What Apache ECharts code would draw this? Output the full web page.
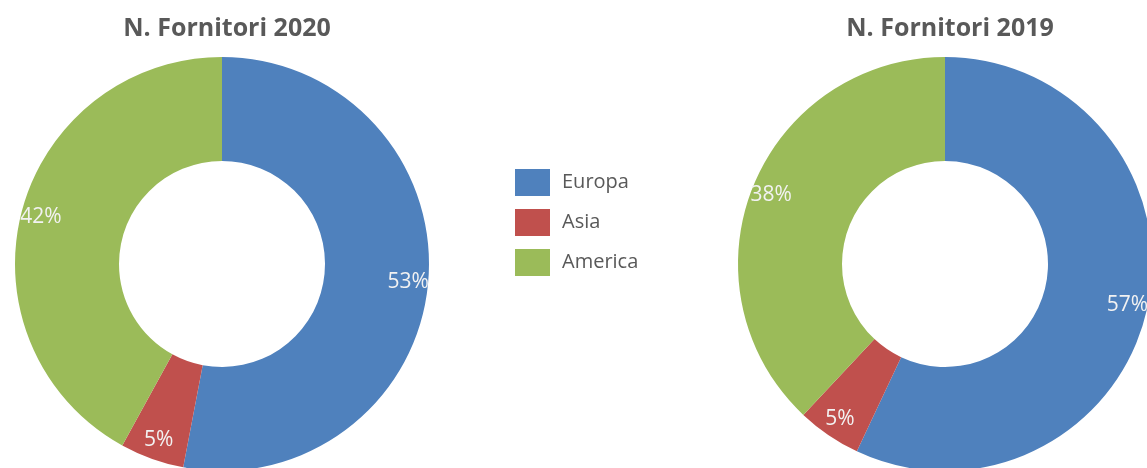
<!DOCTYPE html>
<html><head><meta charset="utf-8">
<script src="https://cdn.jsdelivr.net/npm/echarts@6/dist/echarts.min.js"></script>
<style>html,body{margin:0;padding:0;background:#fff;}#c{width:1147px;height:468px;}</style>
</head><body><div id="c"></div>
<script>
const categories = ['Europa', 'Asia', 'America'];
const values2020 = [53, 5, 42];
const values2019 = [57, 5, 38];
const titles = ['N. Fornitori 2020', 'N. Fornitori 2019'];
const colors = ['#4F81BD', '#C0504D', '#9BBB59'];

const FONT = '"Open Sans", "Noto Sans", sans-serif';
function mk(vals) { return categories.map((n, i) => ({ name: n, value: vals[i] })); }
function ring(vals, cx) {
  return [{
    type: 'pie', center: [cx, 264], radius: [103, 207], startAngle: 90, clockwise: true,
    avoidLabelOverlap: false, label: { show: false }, labelLine: { show: false },
    itemStyle: { borderWidth: 0 }, emphasis: { disabled: true }, animation: false,
    data: mk(vals)
  }, {
    type: 'pie', center: [cx, 264], radius: [170, 198], startAngle: 90, clockwise: true,
    avoidLabelOverlap: false, silent: true, legendHoverLink: false,
    itemStyle: { color: 'rgba(0,0,0,0)', borderWidth: 0 },
    label: { show: true, position: 'inside', formatter: '{c}%', color: '#F2F2F2', fontSize: 21, fontFamily: FONT },
    labelLine: { show: false }, emphasis: { disabled: true }, animation: false,
    data: mk(vals).map(d => ({ ...d, name: d.name + ' ' }))
  }];
}
const chart = echarts.init(document.getElementById('c'));
chart.setOption({
  color: colors,
  animation: false,
  title: [
    { text: titles[0], left: 222, top: 11, textAlign: 'center', textStyle: { fontFamily: FONT, fontWeight: 'bold', fontSize: 25, color: '#595959' } },
    { text: titles[1], left: 945, top: 11, textAlign: 'center', textStyle: { fontFamily: FONT, fontWeight: 'bold', fontSize: 25, color: '#595959' } }
  ],
  legend: {
    data: categories, orient: 'vertical', left: 515, top: 169, padding: 0, icon: 'rect',
    itemWidth: 35, itemHeight: 27, itemGap: 13, selectedMode: false,
    textStyle: { fontFamily: FONT, fontSize: 20, color: '#595959', padding: [0, 0, 0, 7] }
  },
  series: [...ring(values2020, 222), ...ring(values2019, 945)]
});
</script></body></html>
